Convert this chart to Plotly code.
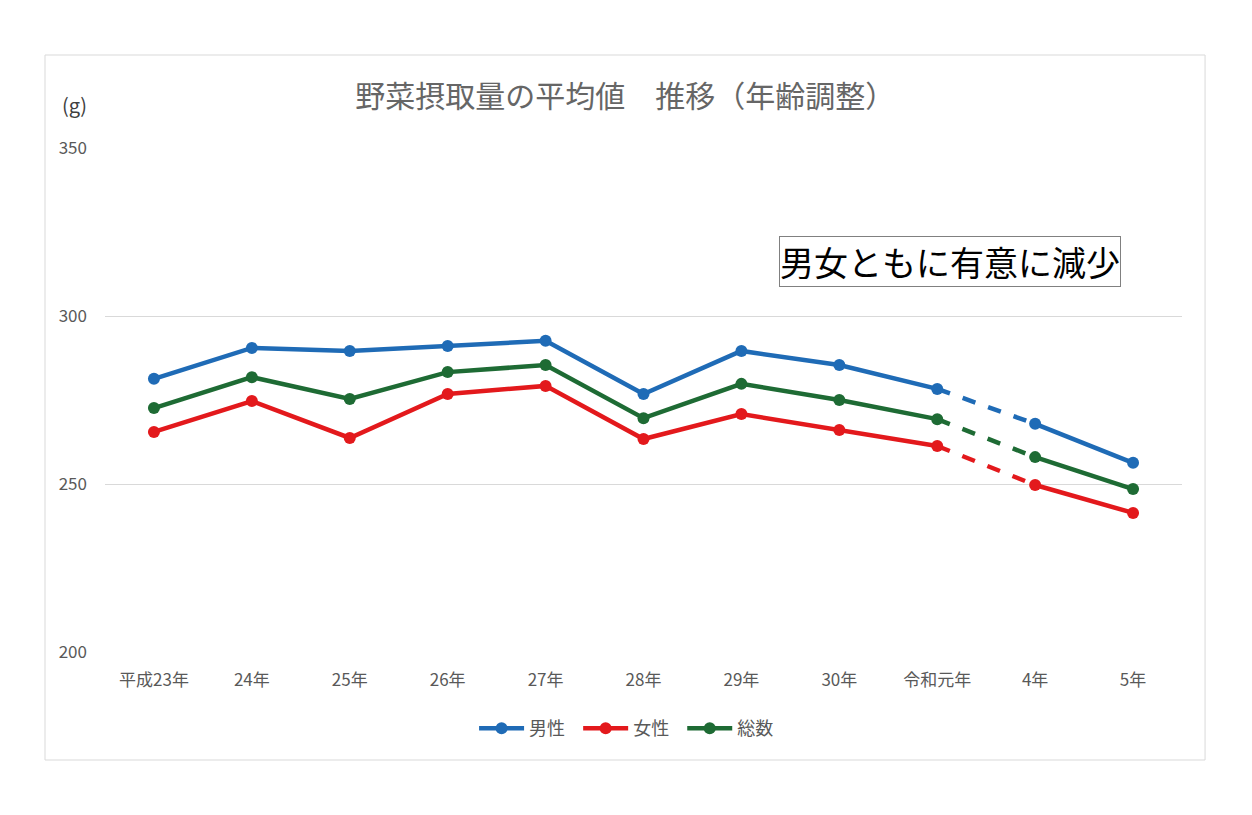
import plotly.graph_objects as go

categories = ["平成23年", "24年", "25年", "26年", "27年", "28年", "29年", "30年", "令和元年", "4年", "5年"]
male = [281.3, 290.5, 289.6, 291.1, 292.6, 276.8, 289.6, 285.4, 278.3, 267.9, 256.3]
female = [265.5, 274.7, 263.7, 276.8, 279.2, 263.4, 270.8, 266.1, 261.3, 249.7, 241.4]
total = [272.6, 281.8, 275.3, 283.3, 285.4, 269.6, 279.8, 275.0, 269.3, 258.0, 248.5]

series = [("男性", male, "#1F6BB6"), ("女性", female, "#E3191C"), ("総数", total, "#1E6B34")]

FONT = "Noto Sans CJK JP, Noto Sans, sans-serif"
GRAY = "#595959"

fig = go.Figure()
for name, vals, col in series:
    fig.add_trace(go.Scatter(x=categories[:9], y=vals[:9], mode="lines+markers", name=name + "  ",
                             legendgroup=name, line=dict(color=col, width=4.5),
                             marker=dict(color=col, size=12)))
for name, vals, col in series:
    fig.add_trace(go.Scatter(x=categories[8:10], y=vals[8:10], mode="lines", name=name,
                             legendgroup=name, showlegend=False,
                             line=dict(color=col, width=4.5, dash="dash")))
    fig.add_trace(go.Scatter(x=categories[9:], y=vals[9:], mode="lines+markers", name=name,
                             legendgroup=name, showlegend=False,
                             line=dict(color=col, width=4.5), marker=dict(color=col, size=12)))

fig.update_layout(
    width=1252, height=815,
    margin=dict(l=97, r=78, t=140, b=171),
    paper_bgcolor="white", plot_bgcolor="white",
    font=dict(family=FONT, color=GRAY, size=16),
    title=dict(text="野菜摂取量の平均値　推移（年齢調整）", x=0.493, xanchor="center",
               y=0.892, yanchor="middle", font=dict(size=30, color="#666666", family=FONT)),
    showlegend=True,
    legend=dict(orientation="h", x=0.488, xanchor="center", y=-0.152, yanchor="middle",
                font=dict(size=18, color=GRAY, family=FONT), itemwidth=45, tracegroupgap=0),
    xaxis=dict(type="category", categoryorder="array", categoryarray=categories,
               range=[-0.5, 10.5], showgrid=False, showline=False, zeroline=False,
               ticks="", tickfont=dict(size=17, color=GRAY), ticklabelstandoff=16),
    yaxis=dict(range=[200, 350], tickvals=[200, 250, 300, 350], showgrid=True,
               gridcolor="#D9D9D9", gridwidth=1, zeroline=False, showline=False,
               ticks="", tickfont=dict(size=17, color=GRAY), ticklabelstandoff=17),
    shapes=[dict(type="rect", xref="paper", yref="paper", x0=-0.0557, x1=1.0214,
                 y0=-0.2143, y1=1.1845, line=dict(color="#D9D9D9", width=1),
                 fillcolor="rgba(0,0,0,0)", layer="below")],
    annotations=[
        dict(text="(g)", xref="paper", yref="paper", x=-0.028, y=1.087, xanchor="center",
             yanchor="middle", showarrow=False, font=dict(size=20, color="#404040", family=FONT)),
        dict(text="男女ともに有意に減少", xref="paper", yref="paper", x=0.785, y=0.774,
             xanchor="center", yanchor="middle", showarrow=False,
             font=dict(size=34, color="black", family=FONT),
             bordercolor="#808080", borderwidth=1, borderpad=0, bgcolor="white"),
    ],
)

fig.write_html("out.html")
